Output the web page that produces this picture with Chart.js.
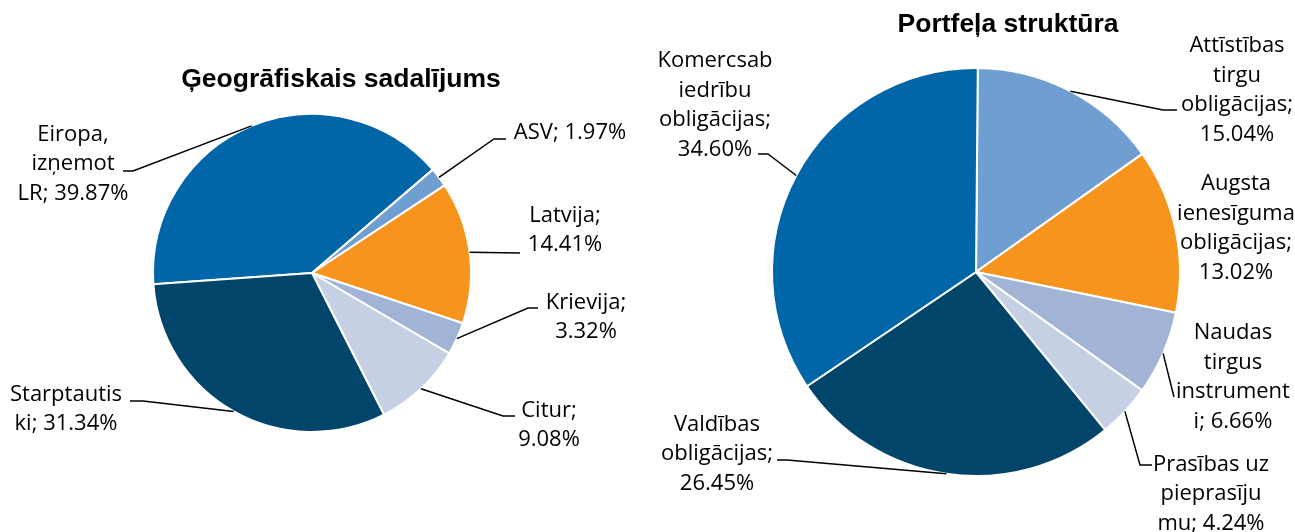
<!DOCTYPE html>
<html>
<head>
<meta charset="utf-8">
<script src="https://cdn.jsdelivr.net/npm/chart.js@4.4.1/dist/chart.umd.min.js"></script>
<style>
    body { margin: 0; background: #fff; }
    .pane { position: absolute; top: 0; }
</style>
</head>
<body>
<div class="pane" style="left: 0;"><canvas id="geoChart" width="647" height="532"></canvas></div>
<div class="pane" style="left: 647px;"><canvas id="portChart" width="648" height="532"></canvas></div>
<script>
// Ģeogrāfiskais sadalījums
const geoCategories = ['Eiropa, izņemot LR', 'ASV', 'Latvija', 'Krievija', 'Citur', 'Starptautiski'];
const geoValues = [39.87, 1.97, 14.41, 3.32, 9.08, 31.34];

// Portfeļa struktūra
const portCategories = ['Attīstības tirgu obligācijas', 'Augsta ienesīguma obligācijas', 'Naudas tirgus instrumenti',
    'Prasības uz pieprasījumu', 'Valdības obligācijas', 'Komercsabiedrību obligācijas'];
const portValues = [15.04, 13.02, 6.66, 4.24, 26.45, 34.60];

const LABEL_FONT = '22px "Open Sans"';
const TITLE_FONT = 'bold 26.5px "Liberation Sans", Arial';

// label boxes: text centre, wrap width (em), leader elbow + end (canvas px)
const geoLayout = [
    { x: 73, y: 164, wrap: 5.2, elbow: [133, 171], end: [123, 171] },
    { x: 570, y: 133, wrap: 6, elbow: [494, 139], end: [506, 139] },
    { x: 565, y: 230, wrap: 5, elbow: [520, 253] },
    { x: 586, y: 317, wrap: 5, elbow: [528, 308], end: [538, 308] },
    { x: 549, y: 425, wrap: 4, elbow: [503, 416], end: [515, 416] },
    { x: 66, y: 409, wrap: 5.35, elbow: [143, 401], end: [130, 401] }
];
const portLayout = [
    { x: 1237, y: 90, wrap: 5.8, elbow: [1163, 110], end: [1177, 110] },
    { x: 1236, y: 228, wrap: 5.8 },
    { x: 1233, y: 377, wrap: 5.3, elbow: [1174, 397] },
    { x: 1211, y: 494, wrap: 5.42, elbow: [1140, 465], end: [1152, 465] },
    { x: 717, y: 454, wrap: 5.8, elbow: [787, 460], end: [777, 460] },
    { x: 715, y: 105, wrap: 5.34, elbow: [768, 154], end: [758, 154] }
];

// Excel-like wrap: break at spaces, split words that are too long
function wrapLabel(ctx, text, maxW) {
    const lines = [];
    let cur = '';
    text.split(' ').forEach(word => {
        const tryLine = cur ? cur + ' ' + word : word;
        if (ctx.measureText(tryLine).width <= maxW) { cur = tryLine; return; }
        if (cur) lines.push(cur);
        cur = '';
        let w = word;
        while (ctx.measureText(w).width > maxW) {
            let n = 1;
            while (n < w.length && ctx.measureText(w.slice(0, n + 1)).width <= maxW) n++;
            lines.push(w.slice(0, n));
            w = w.slice(n);
        }
        cur = w;
    });
    if (cur) lines.push(cur);
    return lines;
}

function makePie(canvasId, categories, values, colors, rotation, padding, title, layout, offsetX) {
    const labelPlugin = {
        id: 'pieLabels',
        afterDraw(chart) {
            const ctx = chart.ctx;
            const arcs = chart.getDatasetMeta(0).data;
            ctx.save();
            ctx.fillStyle = '#000';
            ctx.textAlign = 'center';
            ctx.textBaseline = 'middle';
            ctx.font = TITLE_FONT;
            ctx.fillText(title.text, title.x - offsetX, title.y);

            ctx.font = LABEL_FONT;
            const em = 22;
            arcs.forEach((arc, i) => {
                const lay = layout[i];
                const p = arc.getProps(['x', 'y', 'startAngle', 'endAngle', 'outerRadius'], true);
                const mid = (p.startAngle + p.endAngle) / 2;
                if (lay.elbow) {
                    ctx.strokeStyle = '#000';
                    ctx.lineWidth = 1.5;
                    ctx.beginPath();
                    ctx.moveTo(p.x + Math.cos(mid) * p.outerRadius, p.y + Math.sin(mid) * p.outerRadius);
                    ctx.lineTo(lay.elbow[0] - offsetX, lay.elbow[1]);
                    if (lay.end) ctx.lineTo(lay.end[0] - offsetX, lay.end[1]);
                    ctx.stroke();
                }
                const text = categories[i] + '; ' + values[i].toFixed(2) + '%';
                const lines = wrapLabel(ctx, text, lay.wrap * em);
                const lh = 29.5;
                const top = lay.y - (lines.length - 1) * lh / 2;
                lines.forEach((ln, k) => ctx.fillText(ln, lay.x - offsetX, top + k * lh));
            });
            ctx.restore();
        }
    };

    new Chart(document.getElementById(canvasId).getContext('2d'), {
        type: 'pie',
        data: {
            labels: categories,
            datasets: [{
                data: values,
                backgroundColor: colors,
                borderColor: '#fff',
                borderWidth: 2
            }]
        },
        options: {
            responsive: false,
            animation: false,
            events: [],
            rotation: rotation,
            layout: { padding: padding },
            plugins: { legend: { display: false }, tooltip: { enabled: false } }
        },
        plugins: [labelPlugin]
    });
}

makePie('geoChart', geoCategories, geoValues,
    ['#0066A7', '#6F9FD0', '#F7941D', '#A1B4D6', '#C5D0E4', '#02456A'],
    -94.1, { left: 152, right: 175, top: 113, bottom: 99 },
    { text: 'Ģeogrāfiskais sadalījums', x: 341, y: 80 }, geoLayout, 0);

makePie('portChart', portCategories, portValues,
    ['#6F9FD0', '#F7941D', '#A1B4D6', '#C5D0E4', '#02456A', '#0066A7'],
    0.5, { left: 124, right: 114, top: 67, bottom: 55 },
    { text: 'Portfeļa struktūra', x: 1008, y: 25 }, portLayout, 647);
</script>
</body>
</html>
